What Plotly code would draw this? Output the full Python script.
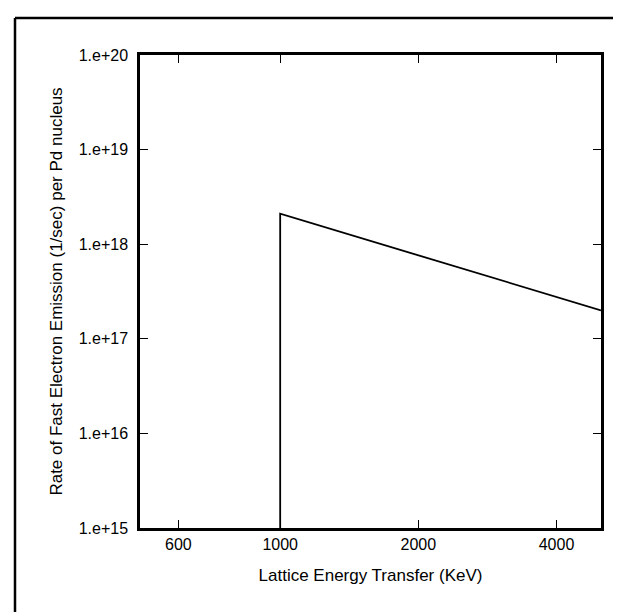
import plotly.graph_objects as go
import numpy as np

# Data
energy_kev = [1000, 1000, 5000]
rate = [1e15, 2.1e18, 2.0e17]

x_tick_vals = [600, 1000, 2000, 4000]
x_tick_text = ["600", "1000", "2000", "4000"]
y_tick_vals = [1e15, 1e16, 1e17, 1e18, 1e19, 1e20]
y_tick_text = ["1.e+15", "1.e+16", "1.e+17", "1.e+18", "1.e+19", "1.e+20"]

W, H = 621, 612
L, R, T, B = 132, 28, 47, 92
pw, ph = W - L - R, H - T - B

fig = go.Figure()
fig.add_trace(go.Scatter(x=energy_kev, y=rate, mode="lines",
                         line=dict(color="black", width=1.8),
                         showlegend=False, hoverinfo="skip"))

font = dict(family="Liberation Sans, Arial, Helvetica, sans-serif", color="black")

fig.update_layout(
    width=W, height=H,
    margin=dict(l=L, r=R, t=T, b=B),
    paper_bgcolor="white", plot_bgcolor="white",
    font=dict(size=16, **font),
    xaxis=dict(type="log", range=[np.log10(495), np.log10(5000)],
               tickvals=x_tick_vals, ticktext=x_tick_text,
               ticks="inside", ticklen=8, tickwidth=1, tickcolor="black",
               showline=True, linewidth=2.5, linecolor="black", mirror="ticks",
               showgrid=False, zeroline=False,
               tickfont=dict(size=16, **font),
               title=dict(text="Lattice Energy Transfer (KeV)",
                          font=dict(size=17, **font), standoff=18)),
    yaxis=dict(type="log", range=[15, 20],
               tickvals=y_tick_vals, ticktext=y_tick_text,
               ticks="inside", ticklen=8, tickwidth=1, tickcolor="black",
               showline=True, linewidth=2.5, linecolor="black", mirror="ticks",
               showgrid=False, zeroline=False,
               ticklabelstandoff=6,
               tickfont=dict(size=16, **font),
               title=dict(text="Rate of Fast Electron Emission (1/sec) per Pd nucleus",
                          font=dict(size=17, **font), standoff=12)),
)

# outer frame (left and top edges visible in the scan)
x_left = (7 - L) / pw
y_top = 1 + (T - 10) / ph
fig.add_shape(type="line", xref="paper", yref="paper",
              x0=x_left, x1=x_left, y0=y_top, y1=-(H - T - ph) / ph - 0.01,
              line=dict(color="black", width=2.5))
fig.add_shape(type="line", xref="paper", yref="paper",
              x0=x_left, x1=(W - L) / pw + 0.01, y0=y_top, y1=y_top,
              line=dict(color="black", width=2.5))

fig.write_html("out.html")
